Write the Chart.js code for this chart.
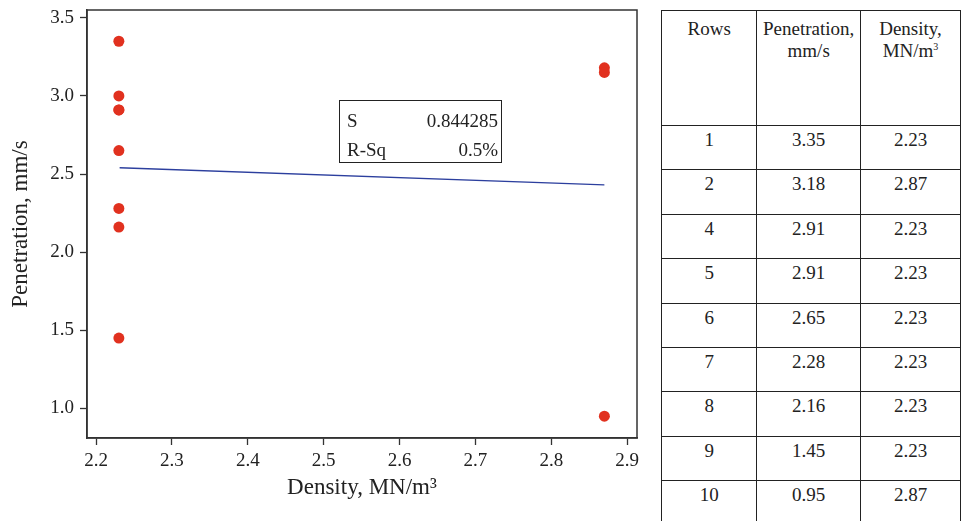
<!DOCTYPE html>
<html>
<head>
<meta charset="utf-8">
<script src="https://cdn.jsdelivr.net/npm/chart.js@4"></script>
<style>
  body { margin: 0; background: #fff; width: 961px; height: 521px; overflow: hidden; position: relative; }
  #wrap { position: absolute; left: 0; top: 0; width: 650px; height: 521px; }
  #stats {
    position: absolute; left: 339px; top: 100px; width: 163px; height: 63px;
    border: 1.5px solid #222; font: 19px "Liberation Serif", serif; color: #222;
    padding: 5px 3px 0 7px; box-sizing: border-box; line-height: 29px;
  }
  #stats div { display: flex; justify-content: space-between; }
  #tbl {
    position: absolute; left: 661px; top: 10px; border-collapse: collapse; table-layout: fixed;
    font: 19px "Liberation Serif", serif; color: #222;
  }
  #tbl td { border: 1px solid #222; text-align: center; vertical-align: top; padding: 0; line-height: 22px; }
  #tbl tr.head td { height: 115px; padding-top: 7px; box-sizing: border-box; }
  #tbl tr.row td { height: 44.4px; padding-top: 3px; box-sizing: border-box; }
  sup { font-size: 10px; line-height: 0; }
</style>
</head>
<body>
<div id="wrap"><canvas id="myChart"></canvas></div>
<div id="stats"><div><span>S</span><span>0.844285</span></div><div><span>R-Sq</span><span>0.5%</span></div></div>
<table id="tbl">
  <colgroup><col style="width:101px"><col style="width:105px"><col style="width:104px"></colgroup>
  <tbody id="tbody"></tbody>
</table>
<script>
// points
const densityPts = [2.23, 2.23, 2.23, 2.23, 2.23, 2.23, 2.23, 2.23, 2.87, 2.87, 2.87];
const penetrationPts = [3.35, 3.00, 2.91, 2.91, 2.65, 2.28, 2.16, 1.45, 3.18, 3.15, 0.95];

// fitted line ends
const fitX = [2.231, 2.87];
const fitY = [2.54, 2.43];

const xTicks = [2.2, 2.3, 2.4, 2.5, 2.6, 2.7, 2.8, 2.9];
const yTicks = [1.0, 1.5, 2.0, 2.5, 3.0, 3.5];

// table on the right
const rowNums = ["1", "2", "4", "5", "6", "7", "8", "9", "10"];
const rowPen = ["3.35", "3.18", "2.91", "2.91", "2.65", "2.28", "2.16", "1.45", "0.95"];
const rowDen = ["2.23", "2.87", "2.23", "2.23", "2.23", "2.23", "2.23", "2.23", "2.87"];

let html = '<tr class="head"><td>Rows</td><td>Penetration,<br>mm/s</td><td>Density,<br>MN/m<sup>3</sup></td></tr>';
for (let i = 0; i < rowNums.length; i++) {
  html += '<tr class="row"><td>' + rowNums[i] + '</td><td>' + rowPen[i] + '</td><td>' + rowDen[i] + '</td></tr>';
}
document.getElementById("tbody").innerHTML = html;

const serif = "'Liberation Serif', 'Times New Roman', serif";

const frame = {
  id: "frame",
  afterDraw(chart) {
    const { ctx, chartArea: a } = chart;
    ctx.save();
    ctx.strokeStyle = "#333";
    ctx.lineWidth = 1.5;
    ctx.strokeRect(a.left, a.top, a.right - a.left, a.bottom - a.top);
    ctx.restore();
  },
};

const data = {
  datasets: [
    {
      type: "scatter",
      label: "points",
      data: densityPts.map((x, i) => ({ x: x, y: penetrationPts[i] })),
      backgroundColor: "#e1311f",
      borderColor: "#e1311f",
      pointRadius: 5.5,
      borderWidth: 0,
    },
    {
      type: "line",
      label: "fit",
      data: fitX.map((x, i) => ({ x: x, y: fitY[i] })),
      borderColor: "#2c3f9e",
      borderWidth: 1.3,
      pointRadius: 0,
      fill: false,
    },
  ],
};

const config = {
  type: "scatter",
  data,
  options: {
    responsive: true,
    maintainAspectRatio: false,
    animation: false,
    layout: { padding: { left: 0, top: 10, right: 13, bottom: 0 } },
    scales: {
      x: {
        type: "linear",
        min: 2.188,
        max: 2.913,
        afterBuildTicks: (s) => { s.ticks = xTicks.map((v) => ({ value: v })); },
        afterFit: (s) => { s.height = 83; s.paddingLeft = 0; s.paddingRight = 0; },
        border: { display: true, color: "#333", width: 1.5 },
        grid: { drawOnChartArea: false, drawTicks: true, tickLength: 7, color: "#333", tickWidth: 1.3 },
        ticks: {
          padding: 5,
          color: "#222",
          font: { size: 19, family: serif },
          callback: (v) => v.toFixed(1),
        },
        title: {
          display: true,
          text: "Density, MN/m³",
          color: "#222",
          font: { size: 23, family: serif },
          padding: { top: 0, bottom: 19 },
        },
      },
      y: {
        type: "linear",
        min: 0.81,
        max: 3.55,
        afterBuildTicks: (s) => { s.ticks = yTicks.map((v) => ({ value: v })); },
        afterFit: (s) => { s.width = 87; s.paddingTop = 0; s.paddingBottom = 0; },
        border: { display: true, color: "#333", width: 1.5 },
        grid: { drawOnChartArea: false, drawTicks: true, tickLength: 7, color: "#333", tickWidth: 1.3 },
        ticks: {
          padding: 6,
          color: "#222",
          font: { size: 19, family: serif },
          callback: (v) => v.toFixed(1),
        },
        title: {
          display: true,
          text: "Penetration, mm/s",
          color: "#222",
          font: { size: 23, family: serif },
          padding: { top: 7, bottom: 0 },
        },
      },
    },
    plugins: {
      legend: { display: false },
      tooltip: { enabled: false },
    },
  },
  plugins: [frame],
};

new Chart(document.getElementById("myChart"), config);
</script>
</body>
</html>
